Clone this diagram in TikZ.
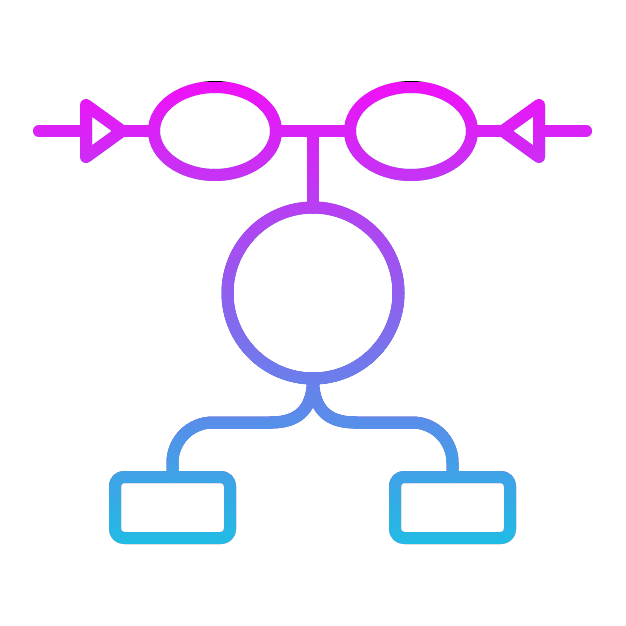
\documentclass[tikz,border=0pt]{standalone}
\usetikzlibrary{shapes.geometric,positioning}
\definecolor{mymagenta}{RGB}{240,16,248}
\definecolor{mycyan}{RGB}{32,188,228}

\begin{document}
\begin{tikzpicture}[x=1pt,y=-1pt,line width=12pt,line cap=round,line join=round,
  every node/.style={outer sep=0pt,inner sep=0pt},
  enode/.style={draw,ellipse,minimum width=122pt,minimum height=88pt},
  tnode/.style={draw,isosceles triangle,isosceles triangle stretches,
    minimum width=52pt,minimum height=36pt},
  cnode/.style={draw,circle,minimum size=171pt},
  bnode/.style={draw,rectangle,rounded corners=9pt,
    minimum width=115pt,minimum height=61pt}]

  \fill[white] (0,0) rectangle (626,626);
  \useasboundingbox (0,0) rectangle (626,626);

  % top row
  \node[enode] (ell1) at (215,131) {};
  \node[enode] (ell2) at (411,131) {};
  \node[tnode,anchor=apex] (tri1) at (122,131) {};
  \node[tnode,shape border rotate=180,anchor=apex] (tri2) at (503,131) {};
  \coordinate (lend) at (39,131);
  \coordinate (rend) at (586,131);

  % middle and bottom
  \node[cnode] (circ) at (313,293) {};
  \node[bnode] (box1) at (172.5,507.5) {};
  \node[bnode] (box2) at (452.5,507.5) {};

  % draw the line through the top row
  \draw (lend) -- (tri1.lower side)
    (tri1.apex) -- (ell1.west)
    (ell1.east) -- (ell2.west)
    (ell2.east) -- (tri2.apex)
    (tri2.lower side) -- (rend);
  \draw (ell1.east -| circ.north) -- (circ.north);

  % draw the fork down to the boxes
  \draw (circ.south) .. controls +(0,30) and +(28,0) .. ++(-42,44) coordinate (lfork);
  \draw (circ.south) .. controls +(0,30) and +(-28,0) .. ++(42,44) coordinate (rfork);
  \draw[rounded corners=40pt] (lfork) -- (lfork -| box1.north) -- (box1.north);
  \draw[rounded corners=40pt] (rfork) -- (rfork -| box2.north) -- (box2.north);

  % colour the strokes
  \fill[top color=mymagenta,bottom color=mycyan,blend mode=lighten] (0,82) rectangle (626,544);
\end{tikzpicture}
\end{document}
